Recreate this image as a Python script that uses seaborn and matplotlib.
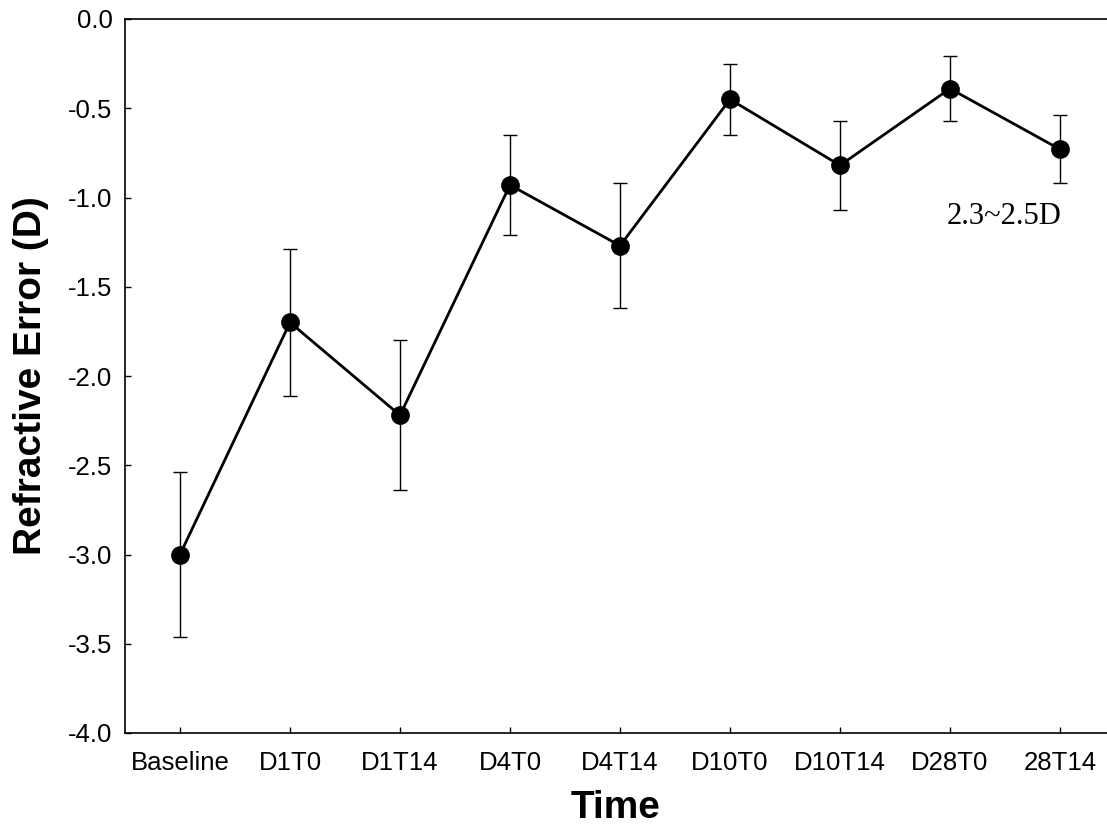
import numpy as np
import pandas as pd
import matplotlib
matplotlib.use("Agg")
import matplotlib.pyplot as plt
import seaborn as sns

# data
times = ["Baseline", "D1T0", "D1T14", "D4T0", "D4T14", "D10T0", "D10T14", "D28T0", "28T14"]
mean_err = [-3.00, -1.70, -2.22, -0.93, -1.27, -0.45, -0.82, -0.39, -0.73]
sd_err = [0.46, 0.41, 0.42, 0.28, 0.35, 0.20, 0.25, 0.18, 0.19]

df = pd.DataFrame({"Time": times, "Refraction": mean_err, "SD": sd_err})

sns.set_style("ticks")
plt.rcParams["font.family"] = ["Liberation Sans", "DejaVu Sans"]
plt.rcParams["axes.unicode_minus"] = False

fig = plt.figure(figsize=(11.07, 8.31), dpi=100)
ax = fig.add_axes([125 / 1107, 1 - 733 / 831, 1 - 125 / 1107, (733 - 19) / 831])

ax.errorbar(np.arange(len(times)), df["Refraction"], yerr=df["SD"],
            fmt="none", ecolor="black", elinewidth=1.0, capsize=5, capthick=1.0, zorder=2)
sns.pointplot(data=df, x="Time", y="Refraction", color="black", markers="o",
              markersize=12, linewidth=2.0, errorbar=None, ax=ax, zorder=3)

ax.set_ylim(-4.0, 0.0)
ax.set_xlim(-0.5, (1107 - 180) / 110)
ax.set_yticks(np.arange(-4.0, 0.01, 0.5))
ax.set_yticklabels([f"{v:.1f}" for v in np.arange(-4.0, 0.01, 0.5)])

ax.tick_params(direction="in", length=4, width=1, labelsize=18.5, colors="black")
ax.tick_params(axis="x", pad=13)
ax.tick_params(axis="y", pad=9)
for s in ["left", "bottom", "top"]:
    ax.spines[s].set_linewidth(1.2)
    ax.spines[s].set_color("black")
ax.spines["right"].set_visible(False)

ax.set_xlabel("Time", fontsize=28, fontweight="bold", labelpad=11, color="black")
ax.set_ylabel("Refractive Error (D)", fontsize=28, fontweight="bold", labelpad=14, color="black")

ax.text(6.97, -1.15, "2.3~2.5D", fontsize=22, family="Liberation Serif", color="black")

fig.savefig("out.png", dpi=100)
